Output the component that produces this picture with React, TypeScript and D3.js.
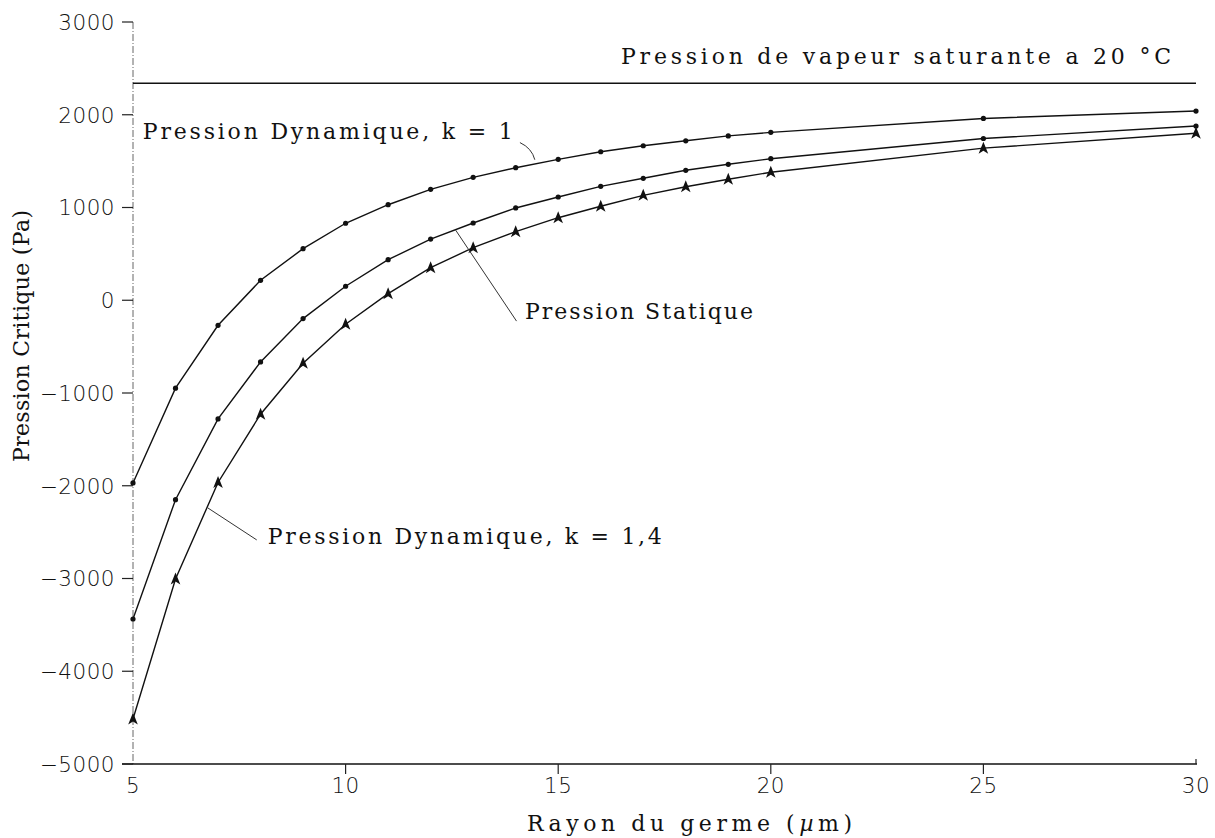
import { scaleLinear, line } from "d3";

const width = 1215;
const height = 838;
const margin = { top: 22, right: 18, bottom: 74, left: 133 };

// rayon du germe (µm)
const rayon = [5, 6, 7, 8, 9, 10, 11, 12, 13, 14, 15, 16, 17, 18, 19, 20, 25, 30];
// pressions critiques (Pa)
const dynamiqueK1 = [-1970, -948, -270, 215, 556, 830, 1030, 1196, 1325, 1429, 1519, 1601, 1666, 1719, 1772, 1810, 1960, 2040];
const statique = [-3437, -2150, -1279, -665, -198, 151, 437, 660, 833, 995, 1113, 1228, 1315, 1401, 1466, 1526, 1744, 1878];
const dynamiqueK14 = [-4515, -3006, -1965, -1229, -679, -259, 71, 351, 567, 739, 890, 1013, 1131, 1224, 1304, 1380, 1640, 1800];
const pressionVapeur = 2340;

const xTicks = [5, 10, 15, 20, 25, 30];
const yTicks = [3000, 2000, 1000, 0, -1000, -2000, -3000, -4000, -5000];

const serif = "'DejaVu Serif', 'Liberation Serif', serif";
const sans = "'DejaVu Sans', sans-serif";

const fmt = (v: number) => (v < 0 ? "\u2212" + Math.abs(v) : String(v));

const App = () => {
  const innerRight = width - margin.right;
  const innerBottom = height - margin.bottom;

  const xScale = scaleLinear().domain([5, 30]).range([margin.left, innerRight - 1]);
  const yScale = scaleLinear().domain([-5000, 3000]).range([innerBottom, margin.top]);

  const lineGen = line<[number, number]>()
    .x((d) => xScale(d[0]))
    .y((d) => yScale(d[1]));

  const series = [
    { name: "k1", values: dynamiqueK1, marker: "dot" },
    { name: "stat", values: statique, marker: "dot" },
    { name: "k14", values: dynamiqueK14, marker: "arrow" },
  ];

  const y0 = yScale(-5000);

  return (
    <svg
      width={width}
      height={height}
      style={{ position: "absolute", left: 0, top: 0, background: "#fff" }}
    >
      {/* axe vertical pointillé */}
      <line
        x1={xScale(5)}
        x2={xScale(5)}
        y1={yScale(3000)}
        y2={y0}
        stroke="#666"
        strokeWidth={1}
        strokeDasharray="7,2,1,2"
      />
      {/* axe horizontal */}
      <line x1={xScale(5) - 11} x2={xScale(30) + 1} y1={y0} y2={y0} stroke="#111" strokeWidth={1.6} />

      {yTicks.map((t) => (
        <g key={t} transform={`translate(${xScale(5)},${yScale(t)})`}>
          <line x1={-11} x2={0} stroke="#222" strokeWidth={1.2} />
          <text
            x={-18}
            dy="0.36em"
            textAnchor="end"
            fontFamily={sans}
            fontWeight={200}
            fontSize={21.5}
            letterSpacing={0.5}
            fill="#111"
          >
            {fmt(t)}
          </text>
        </g>
      ))}

      {xTicks.map((t) => (
        <g key={t} transform={`translate(${xScale(t)},${y0})`}>
          {t !== 5 && <line y1={0} y2={t === 30 ? -5 : 10} stroke="#222" strokeWidth={1.2} />}
          <text
            y={29}
            textAnchor="middle"
            fontFamily={sans}
            fontWeight={200}
            fontSize={21.5}
            letterSpacing={0.5}
            fill="#111"
          >
            {t}
          </text>
        </g>
      ))}

      {/* pression de vapeur saturante */}
      <line
        x1={xScale(5)}
        x2={xScale(30)}
        y1={yScale(pressionVapeur)}
        y2={yScale(pressionVapeur)}
        stroke="#111"
        strokeWidth={1.6}
      />
      <text
        x={xScale(30) - 25}
        y={yScale(pressionVapeur) - 19}
        textAnchor="end"
        fontFamily={serif}
        fontSize={22}
        fill="#111"
        textLength={550}
        lengthAdjust="spacing"
      >
        Pression de vapeur saturante a 20 °C
      </text>

      {series.map((s) => {
        const pts = rayon.map((r, i) => [r, s.values[i]] as [number, number]);
        return (
          <g key={s.name}>
            <path d={lineGen(pts) || ""} fill="none" stroke="#111" strokeWidth={1.4} />
            {pts.map((p, i) =>
              s.marker === "dot" ? (
                <circle key={i} cx={xScale(p[0])} cy={yScale(p[1])} r={2.6} fill="#111" />
              ) : (
                <path
                  key={i}
                  transform={`translate(${xScale(p[0])},${yScale(p[1])})`}
                  d="M0,-6.5 L4.8,5.5 L0,2.5 L-4.8,5.5 Z"
                  fill="#111"
                />
              )
            )}
          </g>
        );
      })}

      {/* annotations */}
      <text
        x={xScale(5.23)}
        y={yScale(1735)}
        fontFamily={serif}
        fontSize={22}
        fill="#111"
        textLength={370}
        lengthAdjust="spacing"
      >
        Pression Dynamique, k = 1
      </text>
      <path
        d={`M${xScale(14.1)},${yScale(1700)} Q${xScale(14.38)},${yScale(1640)} ${xScale(14.45)},${yScale(1515)}`}
        fill="none"
        stroke="#333"
        strokeWidth={1}
      />

      <line
        x1={xScale(12.59)}
        y1={yScale(755)}
        x2={xScale(14.02)}
        y2={yScale(-225)}
        stroke="#333"
        strokeWidth={1}
      />
      <text
        x={xScale(14.22)}
        y={yScale(-205)}
        fontFamily={serif}
        fontSize={22}
        fill="#111"
        textLength={228}
        lengthAdjust="spacing"
      >
        Pression Statique
      </text>

      <line
        x1={xScale(6.76)}
        y1={yScale(-2239)}
        x2={xScale(7.91)}
        y2={yScale(-2584)}
        stroke="#333"
        strokeWidth={1}
      />
      <text
        x={xScale(8.17)}
        y={yScale(-2627)}
        fontFamily={serif}
        fontSize={22}
        fill="#111"
        textLength={394}
        lengthAdjust="spacing"
      >
        Pression Dynamique, k = 1,4
      </text>

      {/* titres des axes */}
      <text
        x={527}
        y={831}
        fontFamily={serif}
        fontSize={22}
        fill="#111"
        textLength={325}
        lengthAdjust="spacing"
      >
        Rayon du germe (<tspan fontStyle="italic">µ</tspan>m)
      </text>
      <text
        transform={`translate(29,${(yScale(3000) + y0) / 2 - 57}) rotate(-90)`}
        textAnchor="middle"
        fontFamily={serif}
        fontSize={22}
        fill="#111"
        textLength={252}
        lengthAdjust="spacing"
      >
        Pression Critique (Pa)
      </text>
    </svg>
  );
};

export default App;
